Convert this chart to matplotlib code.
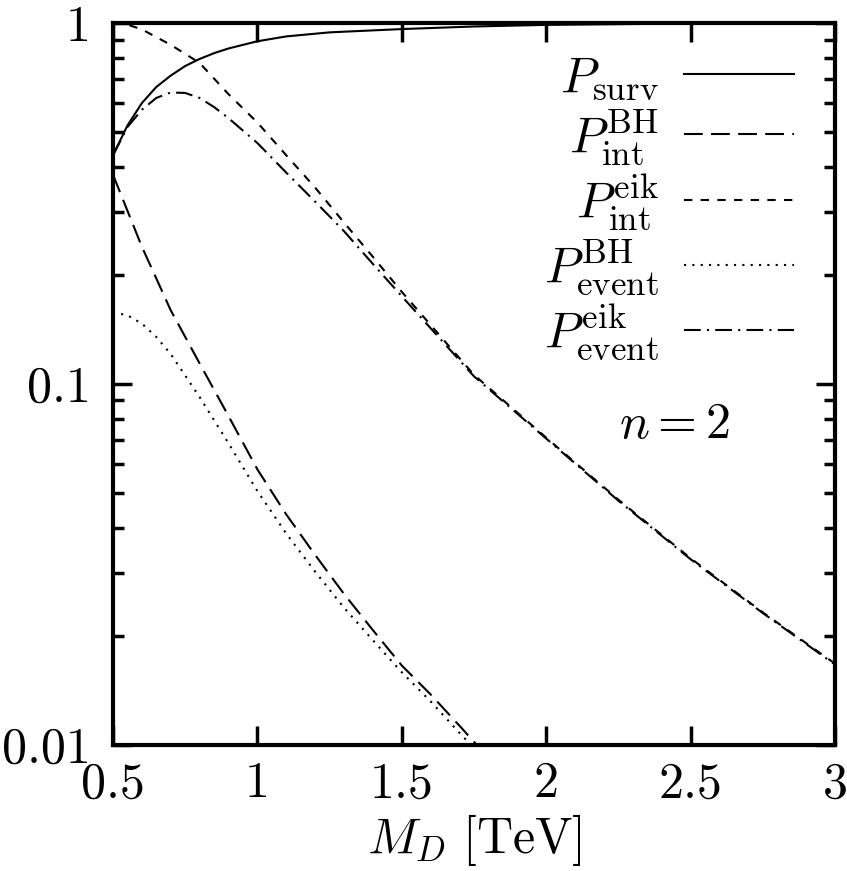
import numpy as np
import matplotlib.pyplot as plt

plt.rcParams['mathtext.fontset'] = 'cm'
plt.rcParams['font.family'] = 'serif'
plt.rcParams['font.serif'] = ['cmr10', 'DejaVu Serif']
plt.rcParams['axes.formatter.use_mathtext'] = True

# P_surv
x_surv = [0.5, 0.55, 0.6, 0.65, 0.7, 0.75, 0.8, 0.85, 0.9, 1.0, 1.1, 1.25, 1.5, 1.75, 2.0, 2.5, 3.0]
p_surv = [0.43, 0.52, 0.60, 0.665, 0.715, 0.76, 0.795, 0.825, 0.85, 0.89, 0.918, 0.942, 0.962, 0.978, 0.988, 0.997, 1.0]

# P_int^BH
x_int_bh = [0.5, 0.6, 0.7, 0.8, 0.9, 1.0, 1.1, 1.2, 1.3, 1.4, 1.5, 1.6, 1.7, 1.76]
p_int_bh = [0.38, 0.24, 0.16, 0.114, 0.0815, 0.058, 0.0435, 0.0336, 0.0262, 0.0208, 0.0166, 0.0138, 0.0113, 0.0100]

# P_int^eik
x_int_eik = [0.5, 0.55, 0.6, 0.7, 0.8, 0.9, 1.0, 1.1, 1.2, 1.3, 1.4, 1.5, 1.75, 2.0, 2.25, 2.5, 2.75, 3.0]
p_int_eik = [1.0, 0.99, 0.96, 0.87, 0.775, 0.635, 0.53, 0.43, 0.35, 0.28, 0.225, 0.18, 0.106, 0.071, 0.0478, 0.0329, 0.0233, 0.0168]

# P_event^BH
x_ev_bh = [0.5, 0.55, 0.6, 0.65, 0.7, 0.8, 0.9, 1.0, 1.1, 1.2, 1.3, 1.4, 1.5, 1.6, 1.7, 1.75]
p_ev_bh = [0.158, 0.155, 0.147, 0.135, 0.121, 0.092, 0.0685, 0.0505, 0.0385, 0.0302, 0.0240, 0.0195, 0.0159, 0.0132, 0.0108, 0.0098]

# P_event^eik
x_ev_eik = [0.5, 0.55, 0.6, 0.65, 0.7, 0.75, 0.8, 0.85, 0.9, 1.0, 1.1, 1.2, 1.3, 1.4, 1.5, 1.75, 2.0, 2.25, 2.5, 2.75, 3.0]
p_ev_eik = [0.43, 0.515, 0.575, 0.62, 0.642, 0.64, 0.62, 0.585, 0.545, 0.465, 0.385, 0.32, 0.265, 0.215, 0.175, 0.105, 0.0706, 0.0475, 0.0327, 0.0232, 0.0167]

xticks = [0.5, 1, 1.5, 2, 2.5, 3]
xtick_labels = ['0.5', '1', '1.5', '2', '2.5', '3']
yticks = [0.01, 0.1, 1]
ytick_labels = ['0.01', '0.1', '1']

fig = plt.figure(figsize=(8.47, 8.71), dpi=100)
ax = fig.add_axes([0.1334, 0.1447, 0.8524, 0.8289])

lw = 1.5
ax.plot(x_surv, p_surv, color='k', lw=lw, label=r'$P_{\rm surv}$')
ax.plot(x_int_bh, p_int_bh, color='k', lw=lw, dashes=(9, 4), label=r'$P_{\rm int}^{\rm BH}$')
ax.plot(x_int_eik, p_int_eik, color='k', lw=lw, dashes=(4, 4), label=r'$P_{\rm int}^{\rm eik}$')
ax.plot(x_ev_bh, p_ev_bh, color='k', lw=lw, dashes=(1, 3), label=r'$P_{\rm event}^{\rm BH}$')
ax.plot(x_ev_eik, p_ev_eik, color='k', lw=lw, dashes=(8, 3, 1, 3), label=r'$P_{\rm event}^{\rm eik}$')

ax.set_yscale('log')
ax.set_xlim(0.5, 3)
ax.set_ylim(0.01, 1)
ax.set_xticks(xticks)
ax.set_xticklabels(xtick_labels)
ax.set_yticks(yticks)
ax.set_yticklabels(ytick_labels)
ax.tick_params(which='both', direction='in', top=True, right=True, labelsize=36)
ax.tick_params(axis='x', pad=12)
ax.tick_params(axis='y', pad=16)
ax.tick_params(which='major', length=14, width=2.5)
ax.tick_params(which='minor', length=8, width=2.5)
ax.tick_params(axis='x', which='minor', bottom=False, top=False)
for s in ax.spines.values():
    s.set_linewidth(3)

ax.set_xlabel(r'$M_D\ [\mathrm{TeV}]$', fontsize=36, labelpad=3)

ax.legend(loc='upper right', bbox_to_anchor=(0.978, 0.99), frameon=False, markerfirst=False,
          fontsize=36, handlelength=2.2, handletextpad=0.5, labelspacing=0.1, borderpad=0)
ax.text(0.778, 0.443, r'$n = 2$', transform=ax.transAxes, fontsize=36, ha='center', va='center')

fig.savefig('out.png', dpi=100)
